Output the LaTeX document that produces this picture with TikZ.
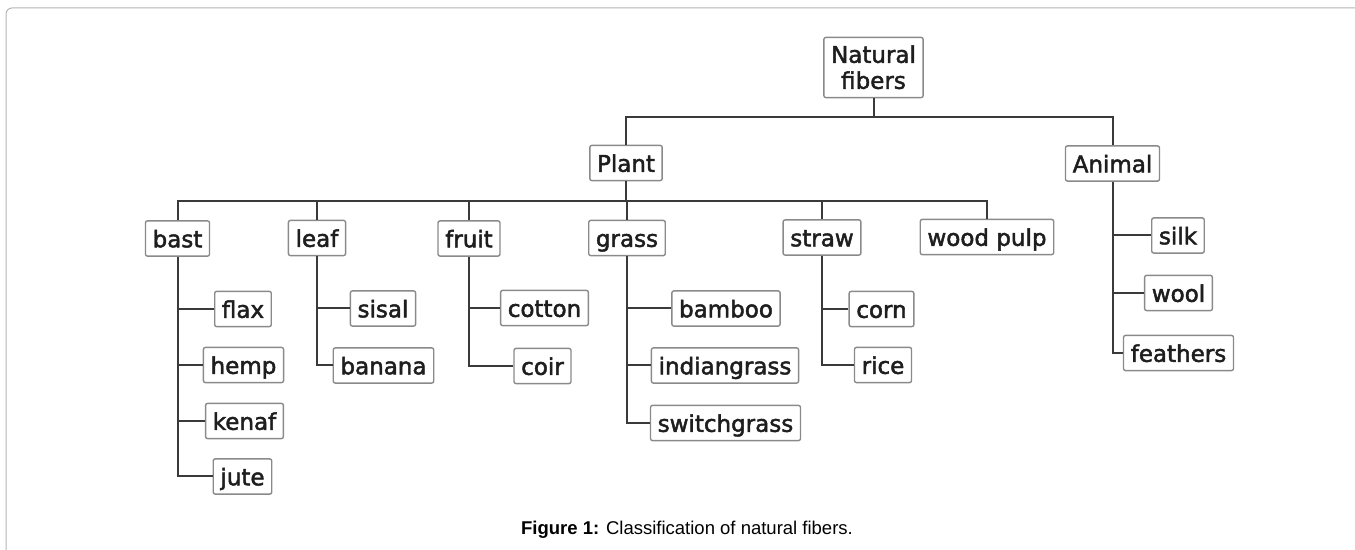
\documentclass[tikz,border=0pt]{standalone}
\usepackage{fontspec}
\setmainfont{DejaVu Sans}
\newfontfamily\fiberfont{DejaVu Sans}[FakeBold=2]
\newfontfamily\capfont{Liberation Sans}
\definecolor{boxgray}{HTML}{8A8A8A}
\definecolor{linegray}{HTML}{3A3A3A}
\definecolor{textgray}{HTML}{1E1E1E}
\definecolor{framegray}{HTML}{B4B4B4}
\begin{document}
\begin{tikzpicture}[x=0.5pt,y=-0.5pt,
  fiber/.style={draw=boxgray,line width=0.7pt,rounded corners=1pt,fill=white,
    inner xsep=3.6pt,inner ysep=3.2pt,text height=10pt,text depth=1.2pt,
    text=textgray,font=\fiberfont\fontsize{11.5}{13}\selectfont},
  link/.style={draw=linegray,line width=1pt}]
  \useasboundingbox (0,0) rectangle (1355,550);
  \draw[framegray,line width=0.5pt,rounded corners=3pt] (6,550) -- (6,8) -- (1355,8);
  \begin{scope}[every node/.style={fiber}]
  \node[align=center,text height=22.5pt] (nat) at (873.5,67.5) {Natural\\fibers};
  \node (plant) at (626,163) {Plant};
  \node (animal) at (1112.5,163.5) {Animal};
  \node (bast) at (177.5,238.5) {bast};
  \node (leaf) at (317,238) {leaf};
  \node (fruit) at (469,238.5) {fruit};
  \node (grass) at (627,238) {grass};
  \node (straw) at (822,237.5) {straw};
  \node (wood) at (987,237) {wood pulp};
  \node (flax) at (243,309) {flax};
  \node (hemp) at (243.5,365) {hemp};
  \node (kenaf) at (244.5,421) {kenaf};
  \node (jute) at (242.5,476.5) {jute};
  \node (sisal) at (383,308.5) {sisal};
  \node (banana) at (383.5,365.5) {banana};
  \node (cotton) at (544.5,308) {cotton};
  \node (coir) at (542.5,366) {coir};
  \node (bamboo) at (726,308.5) {bamboo};
  \node (indian) at (725,365.5) {indiangrass};
  \node (switch) at (725.5,423) {switchgrass};
  \node (corn) at (881.5,309) {corn};
  \node (rice) at (883,365) {rice};
  \node (silk) at (1178,235.5) {silk};
  \node (wool) at (1178.5,293) {wool};
  \node (feathers) at (1178.5,353) {feathers};
  \end{scope}
  \coordinate (j0) at (873.5,117);
  \coordinate (j1) at (626,201);
  \begin{scope}[every path/.style={link}]
  \draw (nat.south) -- (j0);
  \draw (plant.north) |- (j0) -| (animal.north);
  \draw (plant.south) -- (j1);
  \draw (bast.north) |- (j1) -| (wood.north);
  \foreach \n in {leaf,fruit,grass,straw}
    \draw (\n.north) -- (\n.north |- j1);
  % sub-branches
  \draw (bast.south) |- (jute.west);
  \foreach \n in {flax,hemp,kenaf}
    \draw (bast.south |- \n.west) -- (\n.west);
  \draw (leaf.south) |- (banana.west);
  \draw (leaf.south |- sisal.west) -- (sisal.west);
  \draw (fruit.south) |- (coir.west);
  \draw (fruit.south |- cotton.west) -- (cotton.west);
  \draw (grass.south) |- (switch.west);
  \foreach \n in {bamboo,indian}
    \draw (grass.south |- \n.west) -- (\n.west);
  \draw (straw.south) |- (rice.west);
  \draw (straw.south |- corn.west) -- (corn.west);
  \draw (animal.south) |- (feathers.west);
  \foreach \n in {silk,wool}
    \draw (animal.south |- \n.west) -- (\n.west);
  \end{scope}
  \node[text=black] (caption) at (687,530)
    {\capfont\fontsize{9.25}{11}\selectfont\textbf{Figure 1:} Classification of natural fibers.};
\end{tikzpicture}
\end{document}
